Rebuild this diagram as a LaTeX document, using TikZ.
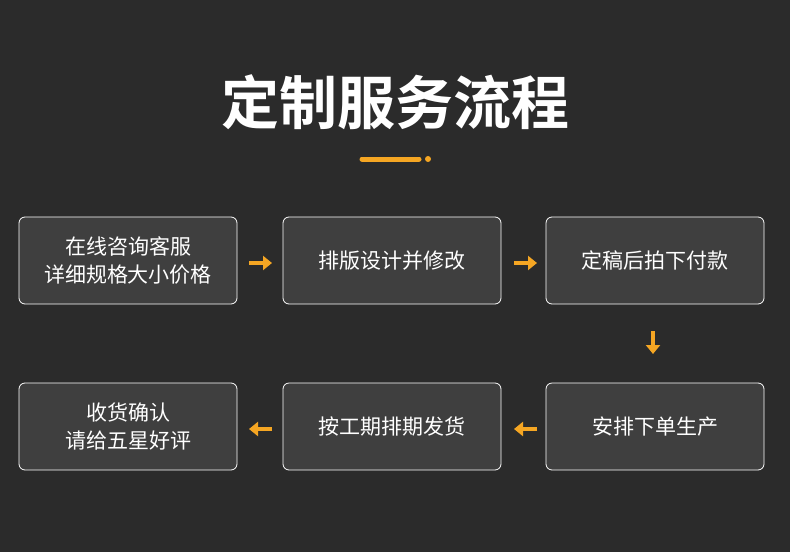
\documentclass[tikz,border=0pt]{standalone}
\usepackage{fontspec}
\newfontfamily\cjk{Noto Sans CJK SC}
\newfontfamily\cjkb{Noto Sans CJK SC Bold}
\usetikzlibrary{arrows.meta}
\definecolor{bg}{HTML}{2B2B2B}
\definecolor{boxc}{HTML}{3F3F3F}
\definecolor{org}{HTML}{F5A623}
\tikzset{
 stepbox/.style={draw=white,line width=0.8pt,fill=boxc,rounded corners=6pt,minimum width=218pt,minimum height=87pt,align=center,text=white,font=\cjk\fontsize{21pt}{28pt}\selectfont,inner sep=0pt},
 flow/.style={draw=org,line width=4pt,-{Triangle[length=9pt,width=14pt]}}
}
\begin{document}
\begin{tikzpicture}[x=1pt,y=-1pt]
\fill[bg] (0,0) rectangle (790,552);
\useasboundingbox (0,0) rectangle (790,552);
\node[text=white,font=\cjkb\fontsize{58pt}{60pt}\selectfont] (title) at (395,102) {定制服务流程};
\draw[org,line width=5pt,line cap=round] (362,159) -- (419,159);
\fill[org] (428,159) circle (3pt);
\node[stepbox] (a) at (128,260.5) {在线咨询客服\\详细规格大小价格};
\node[stepbox] (b) at (392,260.5) {排版设计并修改};
\node[stepbox] (c) at (655,260.5) {定稿后拍下付款};
\node[stepbox] (d) at (655,426.5) {安排下单生产};
\node[stepbox] (e) at (392,426.5) {按工期排期发货};
\node[stepbox] (f) at (128,426.5) {收货确认\\请给五星好评};
\coordinate (a1) at (249,263); \coordinate (a2) at (272,263);
\coordinate (b1) at (514,263); \coordinate (b2) at (537,263);
\coordinate (c1) at (653,331); \coordinate (c2) at (653,354);
\coordinate (d1) at (537,429); \coordinate (d2) at (514,429);
\coordinate (e1) at (272,429); \coordinate (e2) at (249,429);
\draw[flow] (a1) -- (a2);
\draw[flow] (b1) -- (b2);
\draw[flow] (c1) -- (c2);
\draw[flow] (d1) -- (d2);
\draw[flow] (e1) -- (e2);
\end{tikzpicture}
\end{document}
